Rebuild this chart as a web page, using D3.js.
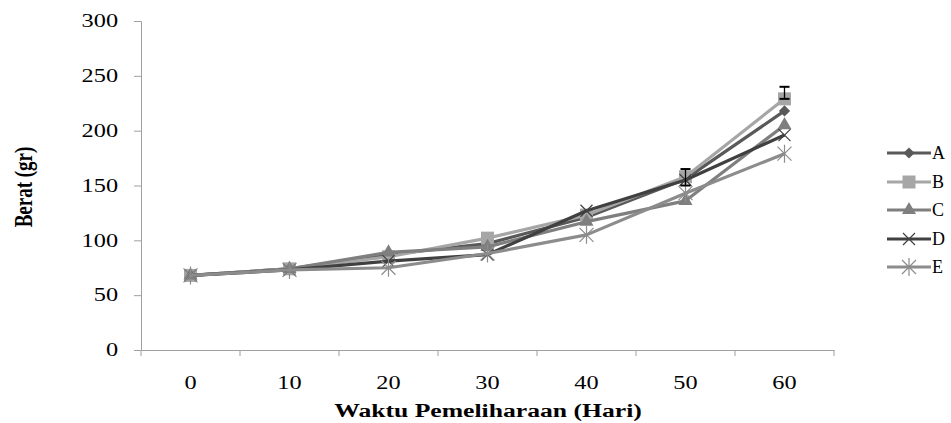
<!DOCTYPE html>
<html><head><meta charset="utf-8">
<script src="https://cdn.jsdelivr.net/npm/d3@7"></script>
<style>body{margin:0;background:#fff;}svg{display:block;}</style>
</head><body>
<svg id="c" width="951" height="423"></svg>
<script>
const days = ["0","10","20","30","40","50","60"];
const seriesNames = ["A","B","C","D","E"];
const valuesA = [68, 74, 87, 97, 121, 156, 218];
const valuesB = [68, 74, 85, 102, 123, 158, 229];
const valuesC = [68, 74, 89, 94, 117, 136, 205];
const valuesD = [68, 73, 81, 87, 127, 155, 196];
const valuesE = [68, 73, 75, 88, 105, 143, 179];
const yTicks = [0, 50, 100, 150, 200, 250, 300];
const errorBars = [ {series:"B", day:"50", lo:150, hi:165}, {series:"B", day:"60", lo:229, hi:240} ];

const FONT = "Liberation Serif";
const SX = 1.35; // horizontal stretch of the original picture
const colors = {A:"#595959", B:"#a6a6a6", C:"#7f7f7f", D:"#404040", E:"#8c8c8c"};
const shapes = {A:"diamond", B:"square", C:"triangle", D:"x", E:"star"};
const data = [valuesA, valuesB, valuesC, valuesD, valuesE].map((v,i)=>({name:seriesNames[i], values:v}));

const svg = d3.select("#c").attr("font-family", FONT);
const L=141, R=834, T=21, B=350;
const x = d3.scaleBand().domain(days).range([L,R]);
const y = d3.scaleLinear().domain([0,300]).range([B,T]);
const axisColor = "#a0a0a0";

// y axis
const ya = svg.append("g").attr("transform",`translate(${L},0)`).call(d3.axisLeft(y).tickValues(yTicks).tickSize(7).tickPadding(10));
ya.attr("font-family", FONT).attr("font-size", 18);
ya.select(".domain").attr("stroke",axisColor);
ya.selectAll(".tick line").attr("stroke",axisColor);
ya.selectAll(".tick text").attr("fill","#000").attr("font-family",FONT).attr("font-size",18).attr("transform",`scale(${SX},1)`);

// x axis
const xa = svg.append("g").attr("transform",`translate(0,${B})`).call(d3.axisBottom(x).tickSize(0).tickPadding(26));
xa.attr("font-family", FONT).attr("font-size", 18);
xa.select(".domain").attr("stroke",axisColor);
xa.selectAll(".tick text").attr("fill","#000").attr("font-family",FONT).attr("font-size",18).attr("transform",`scale(${SX},1)`);
const bounds = days.map(d=>x(d)).concat([R]);
svg.append("g").selectAll("line").data(bounds).join("line")
  .attr("x1",d=>d).attr("x2",d=>d).attr("y1",B).attr("y2",B+6).attr("stroke",axisColor);

// titles
svg.append("text").attr("transform",`translate(488,417) scale(${SX},1)`).attr("text-anchor","middle").attr("font-family",FONT)
  .attr("font-size",19).attr("font-weight","bold").text("Waktu Pemeliharaan (Hari)");
svg.append("text").attr("transform",`translate(32,187) scale(${SX},1) rotate(-90)`).attr("text-anchor","middle").attr("font-family",FONT)
  .attr("font-size",19).attr("font-weight","bold").text("Berat (gr)");

const cx = d=>x(d)+x.bandwidth()/2;
const line = d3.line().x((v,i)=>cx(days[i])).y(v=>y(v));

function drawMarker(g, shape, col, px, py){
  if(shape==="diamond"){
    g.append("path").attr("d",d3.symbol(d3.symbolDiamond2,80)()).attr("transform",`translate(${px},${py})`).attr("fill",col);
  } else if(shape==="square"){
    g.append("rect").attr("x",px-6.5).attr("y",py-6.5).attr("width",13).attr("height",13).attr("fill",col);
  } else if(shape==="triangle"){
    g.append("path").attr("d",d3.symbol(d3.symbolTriangle,85)()).attr("transform",`translate(${px},${py})`).attr("fill",col);
  } else if(shape==="x"){
    g.append("path").attr("d",`M${px-6},${py-6}L${px+6},${py+6}M${px-6},${py+6}L${px+6},${py-6}`).attr("stroke",col).attr("stroke-width",1.2).attr("fill","none");
  } else if(shape==="star"){
    g.append("path").attr("d",`M${px-7},${py-7}L${px+7},${py+7}M${px-7},${py+7}L${px+7},${py-7}M${px},${py-9}L${px},${py+9}`).attr("stroke",col).attr("stroke-width",1.2).attr("fill","none");
  }
}

data.forEach(s=>{
  const g = svg.append("g");
  g.append("path").datum(s.values).attr("d",line).attr("fill","none").attr("stroke",colors[s.name]).attr("stroke-width",3.2).attr("stroke-linejoin","round");
  s.values.forEach((v,i)=>drawMarker(g, shapes[s.name], colors[s.name], cx(days[i]), y(v)));
});

// error bars
errorBars.forEach(e=>{
  const px = cx(e.day);
  const g = svg.append("g").attr("stroke","#000").attr("stroke-width",1.3);
  g.append("line").attr("x1",px).attr("x2",px).attr("y1",y(e.lo)).attr("y2",y(e.hi));
  g.append("line").attr("x1",px-5).attr("x2",px+5).attr("y1",y(e.hi)).attr("y2",y(e.hi)).attr("stroke-width",2);
  g.append("line").attr("x1",px-5).attr("x2",px+5).attr("y1",y(e.lo)).attr("y2",y(e.lo)).attr("stroke-width",2);
});

// legend
const legY = [153,182,210,239,267];
data.forEach((s,i)=>{
  const g = svg.append("g");
  g.append("line").attr("x1",887).attr("x2",931).attr("y1",legY[i]).attr("y2",legY[i]).attr("stroke",colors[s.name]).attr("stroke-width",3.2);
  drawMarker(g, shapes[s.name], colors[s.name], 909, legY[i]);
  g.append("text").attr("x",932).attr("y",legY[i]+6).attr("font-size",18).attr("font-family",FONT).text(s.name);
});
</script>
</body></html>
